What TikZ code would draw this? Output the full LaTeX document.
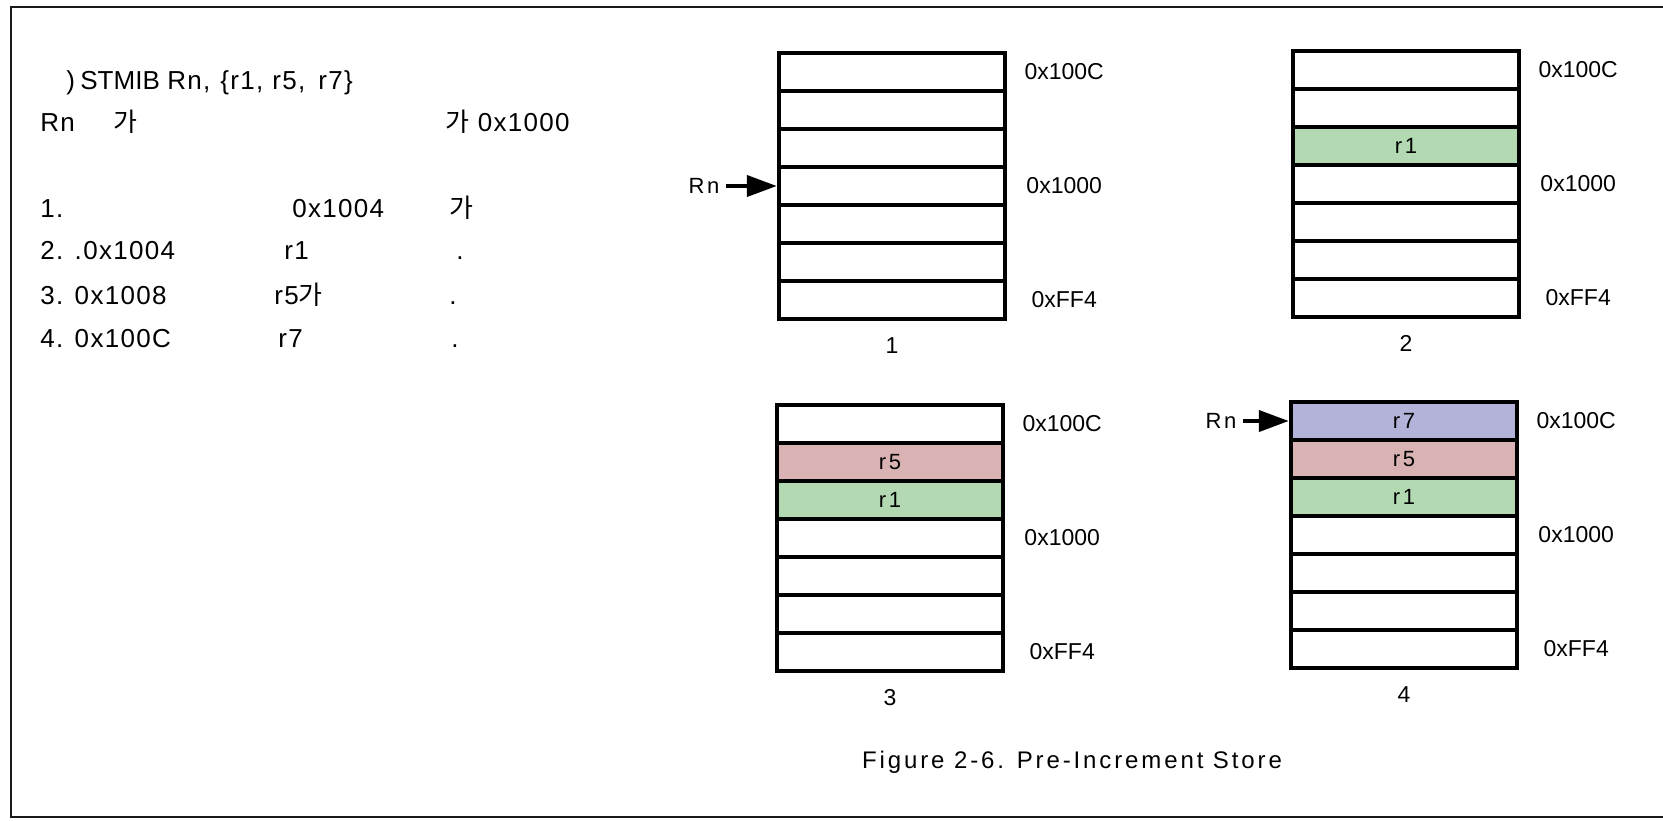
\documentclass[tikz,border=0pt]{standalone}
\usepackage{fontspec}
\setmainfont{Liberation Sans}
\newfontfamily\krfont{Noto Sans CJK KR}
\newfontfamily\spfont[LetterSpace=12]{Liberation Sans}
\newfontfamily\txfont[LetterSpace=5]{Liberation Sans}
\usetikzlibrary{arrows.meta}

\definecolor{rone}{RGB}{179,217,179}
\definecolor{rfive}{RGB}{217,179,179}
\definecolor{rseven}{RGB}{179,179,217}

\tikzset{
  cell/.style={draw, line width=2.2pt, fill=white, minimum width=113pt,
    minimum height=19pt, inner sep=0pt, font=\spfont\fontsize{11}{13}\selectfont},
  addr/.style={font=\fontsize{11.5}{13}\selectfont},
  txt/.style={anchor=base west, inner sep=0pt, font=\txfont\fontsize{13}{15}\selectfont},
  ptr/.style={line width=2pt, -{Triangle[length=15pt,width=10.5pt]}},
}

\begin{document}
\begin{tikzpicture}[x=0.5pt,y=-0.5pt]
  \useasboundingbox (0,0) rectangle (1663,820);
  \draw[line width=1pt, black!90] (1663,7) -- (11,7) -- (11,817) -- (1663,817);
  %% Draw the text on the left
  \node[txt] (t1a) at (66,89) {)};
  \node[txt, font=\fontsize{13}{15}\selectfont] (t1s) at (80,89) {STMIB};
  \node[txt] (t1b) at (167,89) {Rn,};
  \node[txt] (t1c) at (220,89) {\{r1,};
  \node[txt] (t1d) at (272,89) {r5,};
  \node[txt] (t1e) at (318,89) {r7\}};
  \node[txt] (t2a) at (40,131) {Rn};
  \node[txt] (t2b) at (113,131) {\krfont 가};
  \node[txt] (t2c) at (445,131) {{\krfont 가} 0x1000};
  \node[txt] (t3a) at (40,217) {1.};
  \node[txt] (t3b) at (292,217) {0x1004};
  \node[txt] (t3c) at (449,217) {\krfont 가};
  \node[txt] (t4a) at (40,259) {2. .0x1004};
  \node[txt] (t4b) at (284,259) {r1};
  \node[txt] (t4c) at (456,259) {.};
  \node[txt] (t5a) at (40,304) {3. 0x1008};
  \node[txt] (t5b) at (274,304) {r5{\krfont 가}};
  \node[txt] (t5c) at (449,304) {.};
  \node[txt] (t6a) at (40,347) {4. 0x100C};
  \node[txt] (t6b) at (278,347) {r7};
  \node[txt] (t6c) at (451,347) {.};
  %% Draw the four memory stacks
  \foreach \m/\X/\Y in {1/892/72, 2/1406/70, 3/890/424, 4/1404/421} {
    \foreach \i in {1,...,7}
      \node[cell] (m\m-\i) at (\X,\Y+38*\i-38) {};
    \node[addr] (hi\m) at ([xshift=28.5pt]m\m-1.east) {0x100C};
    \node[addr] (mid\m) at ([xshift=28.5pt]m\m-4.east) {0x1000};
    \node[addr] (lo\m) at ([xshift=28.5pt]m\m-7.east) {0xFF4};
    \node[addr] (n\m) at ([yshift=-12pt]m\m-7.south) {\m};
  }
  %% Draw the stored registers
  \node[cell, fill=rone] (m2-3) at (m2-3) {r1};
  \node[cell, fill=rfive] (m3-2) at (m3-2) {r5};
  \node[cell, fill=rone] (m3-3) at (m3-3) {r1};
  \node[cell, fill=rseven] (m4-1) at (m4-1) {r7};
  \node[cell, fill=rfive] (m4-2) at (m4-2) {r5};
  \node[cell, fill=rone] (m4-3) at (m4-3) {r1};
  %% Draw the base register pointers
  \node[font=\spfont\fontsize{11}{13}\selectfont] (rn1) at (704,186) {Rn};
  \node[font=\spfont\fontsize{11}{13}\selectfont] (rn4) at (1221,421) {Rn};
  \draw[ptr] (rn1) -- (m1-4);
  \draw[ptr] (rn4) -- (m4-1);
  %% Draw the caption
  \node[font=\spfont\fontsize{12}{14}\selectfont] (cap) at (1072,762)
    {Figure 2-6. Pre-Increment Store};
\end{tikzpicture}
\end{document}
